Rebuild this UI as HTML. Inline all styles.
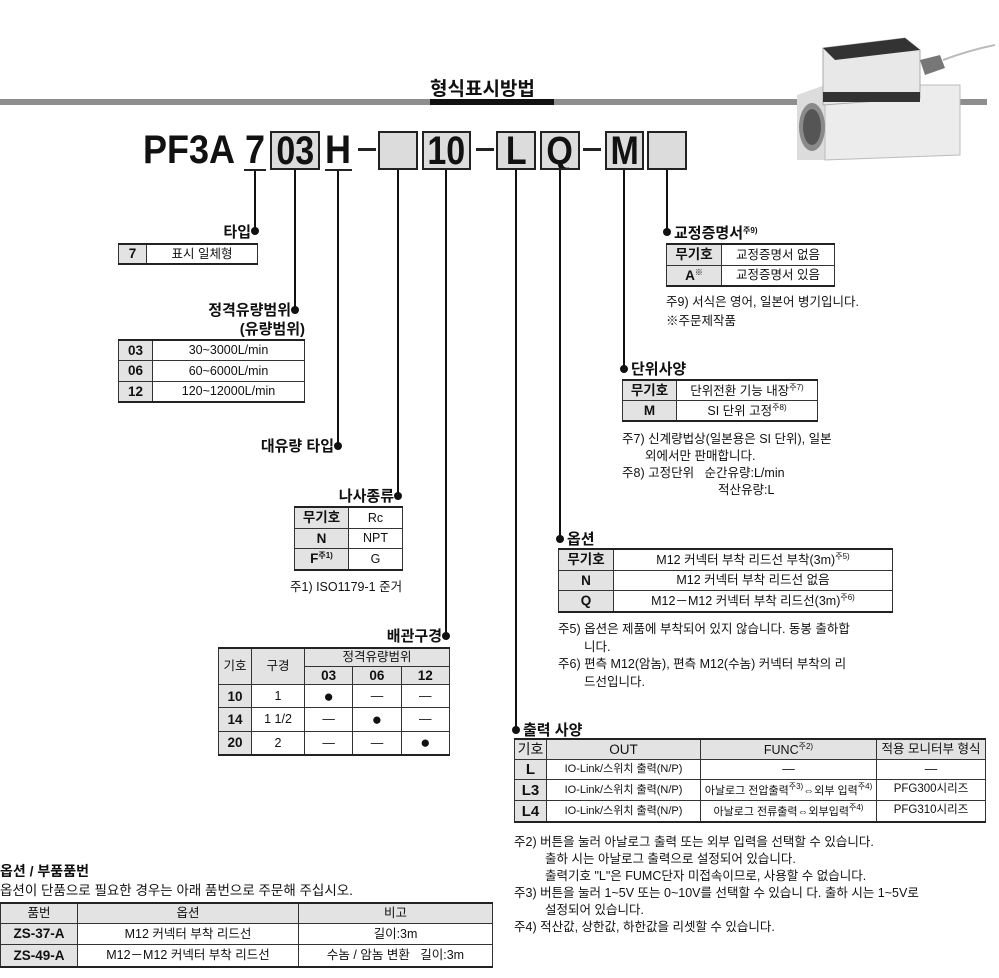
<!DOCTYPE html>
<html><head><meta charset="utf-8">
<style>
*{margin:0;padding:0;box-sizing:border-box}
body{width:999px;height:978px;position:relative;background:#fff;font-family:"Liberation Sans","Noto Sans CJK KR",sans-serif;color:#111;overflow:hidden}
.a{position:absolute;white-space:nowrap}
table{position:absolute;border-collapse:collapse;font-size:12.5px;border-top:2px solid #222;border-bottom:2px solid #222}
td{border:1px solid #333;text-align:center;padding:0;line-height:1}
td.g{background:#e3e3e3;font-weight:bold;font-size:13.5px}
td.h{background:#e3e3e3}
sup{font-size:8px;vertical-align:5px}
.lb{font-weight:bold;font-size:15px}
.n{font-size:12.5px}
.box{position:absolute;top:131px;height:39px;border:2px solid #222;background:#dcdcdc;font-weight:bold;font-size:40px;line-height:36px;text-align:center;overflow:hidden}
.box span{display:inline-block;transform:scaleX(.85)}
.ch{position:absolute;top:128px;font-weight:bold;font-size:40px;line-height:44px}
</style></head><body>
<div class="a" style="left:430px;top:74px;font-size:19px;font-weight:bold">형식표시방법</div>
<div class="a" style="left:0;top:99px;width:987px;height:6px;background:#8e8e8e"></div>
<div class="a" style="left:430px;top:99px;width:124px;height:6px;background:#111"></div>

<svg class="a" style="left:795px;top:20px" width="200" height="145" viewBox="0 0 200 145">
<path d="M2 75 L30 65 L165 65 L165 135 L30 140 L2 140Z" fill="#dcdcdc"/>
<path d="M30 65 L165 65 L165 135 L30 140Z" fill="#ececec" stroke="#bbb"/>
<ellipse cx="17" cy="107" rx="13" ry="24" fill="#8a8a8a"/>
<ellipse cx="17" cy="107" rx="9" ry="18" fill="#555"/>
<path d="M28 28 L110 18 L125 30 L125 78 L28 85Z" fill="#e8e8e8" stroke="#aaa"/>
<path d="M28 28 L110 18 L125 30 L40 40Z" fill="#333"/>
<rect x="28" y="72" width="97" height="10" fill="#333"/>
<path d="M125 40 L145 35 L150 48 L130 55Z" fill="#777"/>
<path d="M148 40 Q175 30 200 25" stroke="#bbb" stroke-width="2" fill="none"/>
</svg>

<div class="ch" style="left:143px;transform:scaleX(.9);transform-origin:left">PF3A</div>
<div class="ch" style="left:245px;transform:scaleX(.9);transform-origin:left">7</div>
<div class="a" style="left:244px;top:169px;width:22px;height:2px;background:#222"></div>
<div class="box" style="left:270px;width:50px"><span>03</span></div>
<div class="ch" style="left:325px;transform:scaleX(.9);transform-origin:left">H</div>
<div class="a" style="left:325px;top:169px;width:27px;height:2px;background:#222"></div>
<div class="a" style="left:358px;top:148px;width:18px;height:3px;background:#222"></div>
<div class="box" style="left:378px;width:40px"></div>
<div class="box" style="left:422px;width:49px"><span>10</span></div>
<div class="a" style="left:476px;top:148px;width:18px;height:3px;background:#222"></div>
<div class="box" style="left:496px;width:40px"><span>L</span></div>
<div class="box" style="left:540px;width:40px"><span>Q</span></div>
<div class="a" style="left:583px;top:148px;width:18px;height:3px;background:#222"></div>
<div class="box" style="left:605px;width:39px"><span>M</span></div>
<div class="box" style="left:647px;width:40px"></div>

<svg class="a" style="left:0;top:0" width="999" height="978">
<g stroke="#111" stroke-width="2">
<line x1="255" y1="171" x2="255" y2="230"/>
<line x1="295" y1="170" x2="295" y2="309"/>
<line x1="338" y1="171" x2="338" y2="445"/>
<line x1="398" y1="170" x2="398" y2="495"/>
<line x1="446" y1="170" x2="446" y2="635"/>
<line x1="516" y1="170" x2="516" y2="729"/>
<line x1="560" y1="170" x2="560" y2="538"/>
<line x1="624" y1="170" x2="624" y2="368"/>
<line x1="667" y1="170" x2="667" y2="231"/>
</g>
<g fill="#111">
<circle cx="255" cy="231" r="4"/><circle cx="295" cy="310" r="4"/><circle cx="338" cy="446" r="4"/>
<circle cx="398" cy="496" r="4"/><circle cx="446" cy="636" r="4"/><circle cx="516" cy="730" r="4"/>
<circle cx="560" cy="539" r="4"/><circle cx="624" cy="369" r="4"/><circle cx="667" cy="232" r="4"/>
</g>
</svg>

<div class="a lb" style="right:748px;top:221px">타입</div>
<table style="left:118px;top:243px;width:140px;height:22px"><tr><td class="g" style="width:28px">7</td><td>표시 일체형</td></tr></table>

<div class="a lb" style="right:708px;top:299px">정격유량범위</div>
<div class="a lb" style="right:694px;top:318px">(유량범위)</div>
<table style="left:118px;top:339px;width:187px;height:64px">
<tr><td class="g" style="width:34px">03</td><td>30~3000L/min</td></tr>
<tr><td class="g">06</td><td>60~6000L/min</td></tr>
<tr><td class="g">12</td><td>120~12000L/min</td></tr></table>

<div class="a lb" style="right:665px;top:435px">대유량 타입</div>

<div class="a lb" style="right:605px;top:485px">나사종류</div>
<table style="left:294px;top:506px;width:109px;height:65px">
<tr><td class="g" style="width:54px">무기호</td><td>Rc</td></tr>
<tr><td class="g">N</td><td>NPT</td></tr>
<tr><td class="g">F<sup>주1)</sup></td><td>G</td></tr></table>
<div class="a n" style="left:290px;top:576px">주1) ISO1179-1 준거</div>

<div class="a lb" style="right:557px;top:625px">배관구경</div>
<table style="left:218px;top:647px;width:232px;height:109px">
<tr><td class="h" rowspan="2" style="width:33px">기호</td><td class="h" rowspan="2" style="width:53px">구경</td><td class="h" colspan="3">정격유량범위</td></tr>
<tr><td class="g">03</td><td class="g">06</td><td class="g">12</td></tr>
<tr><td class="g">10</td><td>1</td><td style="font-size:17px">●</td><td>—</td><td>—</td></tr>
<tr><td class="g">14</td><td>1 1/2</td><td>—</td><td style="font-size:17px">●</td><td>—</td></tr>
<tr><td class="g">20</td><td>2</td><td>—</td><td>—</td><td style="font-size:17px">●</td></tr></table>

<div class="a lb" style="left:674px;top:222px">교정증명서<sup>주9)</sup></div>
<table style="left:666px;top:243px;width:169px;height:44px">
<tr><td class="g" style="width:55px">무기호</td><td>교정증명서 없음</td></tr>
<tr><td class="g">A<sup>※</sup></td><td>교정증명서 있음</td></tr></table>
<div class="a n" style="left:666px;top:291px">주9) 서식은 영어, 일본어 병기입니다.</div>
<div class="a n" style="left:666px;top:310px">※주문제작품</div>

<div class="a lb" style="left:631px;top:358px">단위사양</div>
<table style="left:622px;top:379px;width:196px;height:43px">
<tr><td class="g" style="width:54px">무기호</td><td>단위전환 기능 내장<sup>주7)</sup></td></tr>
<tr><td class="g">M</td><td>SI 단위 고정<sup>주8)</sup></td></tr></table>
<div class="a n" style="left:622px;top:428px">주7) 신계량법상(일본용은 SI 단위), 일본</div>
<div class="a n" style="left:645px;top:445px">외에서만 판매합니다.</div>
<div class="a n" style="left:622px;top:462px">주8) 고정단위&nbsp;&nbsp;&nbsp;순간유량:L/min</div>
<div class="a n" style="left:718px;top:479px">적산유량:L</div>

<div class="a lb" style="left:567px;top:528px">옵션</div>
<table style="left:558px;top:548px;width:335px;height:65px">
<tr><td class="g" style="width:55px">무기호</td><td>M12 커넥터 부착 리드선 부착(3m)<sup>주5)</sup></td></tr>
<tr><td class="g">N</td><td>M12 커넥터 부착 리드선 없음</td></tr>
<tr><td class="g">Q</td><td>M12－M12 커넥터 부착 리드선(3m)<sup>주6)</sup></td></tr></table>
<div class="a n" style="left:558px;top:618px">주5) 옵션은 제품에 부착되어 있지 않습니다. 동봉 출하합</div>
<div class="a n" style="left:584px;top:636px">니다.</div>
<div class="a n" style="left:558px;top:653px">주6) 편측 M12(암놈), 편측 M12(수놈) 커넥터 부착의 리</div>
<div class="a n" style="left:584px;top:671px">드선입니다.</div>

<div class="a lb" style="left:523px;top:719px">출력 사양</div>
<table style="left:514px;top:738px;width:472px;height:85px">
<tr><td class="h" style="width:32px;font-size:14px">기호</td><td class="h" style="width:154px;font-size:13.5px">OUT</td><td class="h" style="width:176px">FUNC<sup>주2)</sup></td><td class="h">적용 모니터부 형식</td></tr>
<tr><td class="g" style="font-size:15px">L</td><td style="font-size:11px">IO-Link/스위치 출력(N/P)</td><td>—</td><td>—</td></tr>
<tr><td class="g" style="font-size:15px">L3</td><td style="font-size:11px">IO-Link/스위치 출력(N/P)</td><td style="font-size:11px">아날로그 전압출력<sup>주3)</sup>⇔외부 입력<sup>주4)</sup></td><td style="font-size:11.5px">PFG300시리즈</td></tr>
<tr><td class="g" style="font-size:15px">L4</td><td style="font-size:11px">IO-Link/스위치 출력(N/P)</td><td style="font-size:11px">아날로그 전류출력⇔외부입력<sup>주4)</sup></td><td style="font-size:11.5px">PFG310시리즈</td></tr></table>
<div class="a n" style="left:514px;top:831px">주2) 버튼을 눌러 아날로그 출력 또는 외부 입력을 선택할 수 있습니다.</div>
<div class="a n" style="left:545px;top:848px">출하 시는 아날로그 출력으로 설정되어 있습니다.</div>
<div class="a n" style="left:545px;top:865px">출력기호 "L"은 FUMC단자 미접속이므로, 사용할 수 없습니다.</div>
<div class="a n" style="left:514px;top:882px">주3) 버튼을 눌러 1~5V 또는 0~10V를 선택할 수 있습니 다. 출하 시는 1~5V로</div>
<div class="a n" style="left:545px;top:899px">설정되어 있습니다.</div>
<div class="a n" style="left:514px;top:916px">주4) 적산값, 상한값, 하한값을 리셋할 수 있습니다.</div>

<div class="a" style="left:0;top:861px;font-size:14px;font-weight:bold">옵션 / 부품품번</div>
<div class="a" style="left:0;top:879px;font-size:13.5px">옵션이 단품으로 필요한 경우는 아래 품번으로 주문해 주십시오.</div>
<table style="left:0;top:902px;width:493px;height:66px">
<tr style="height:20px"><td class="h" style="width:77px">품번</td><td class="h" style="width:221px">옵션</td><td class="h">비고</td></tr>
<tr><td class="g">ZS-37-A</td><td>M12 커넥터 부착 리드선</td><td>길이:3m</td></tr>
<tr><td class="g">ZS-49-A</td><td>M12－M12 커넥터 부착 리드선</td><td>수놈 / 암놈 변환&nbsp;&nbsp;&nbsp;길이:3m</td></tr></table>
</body></html>
